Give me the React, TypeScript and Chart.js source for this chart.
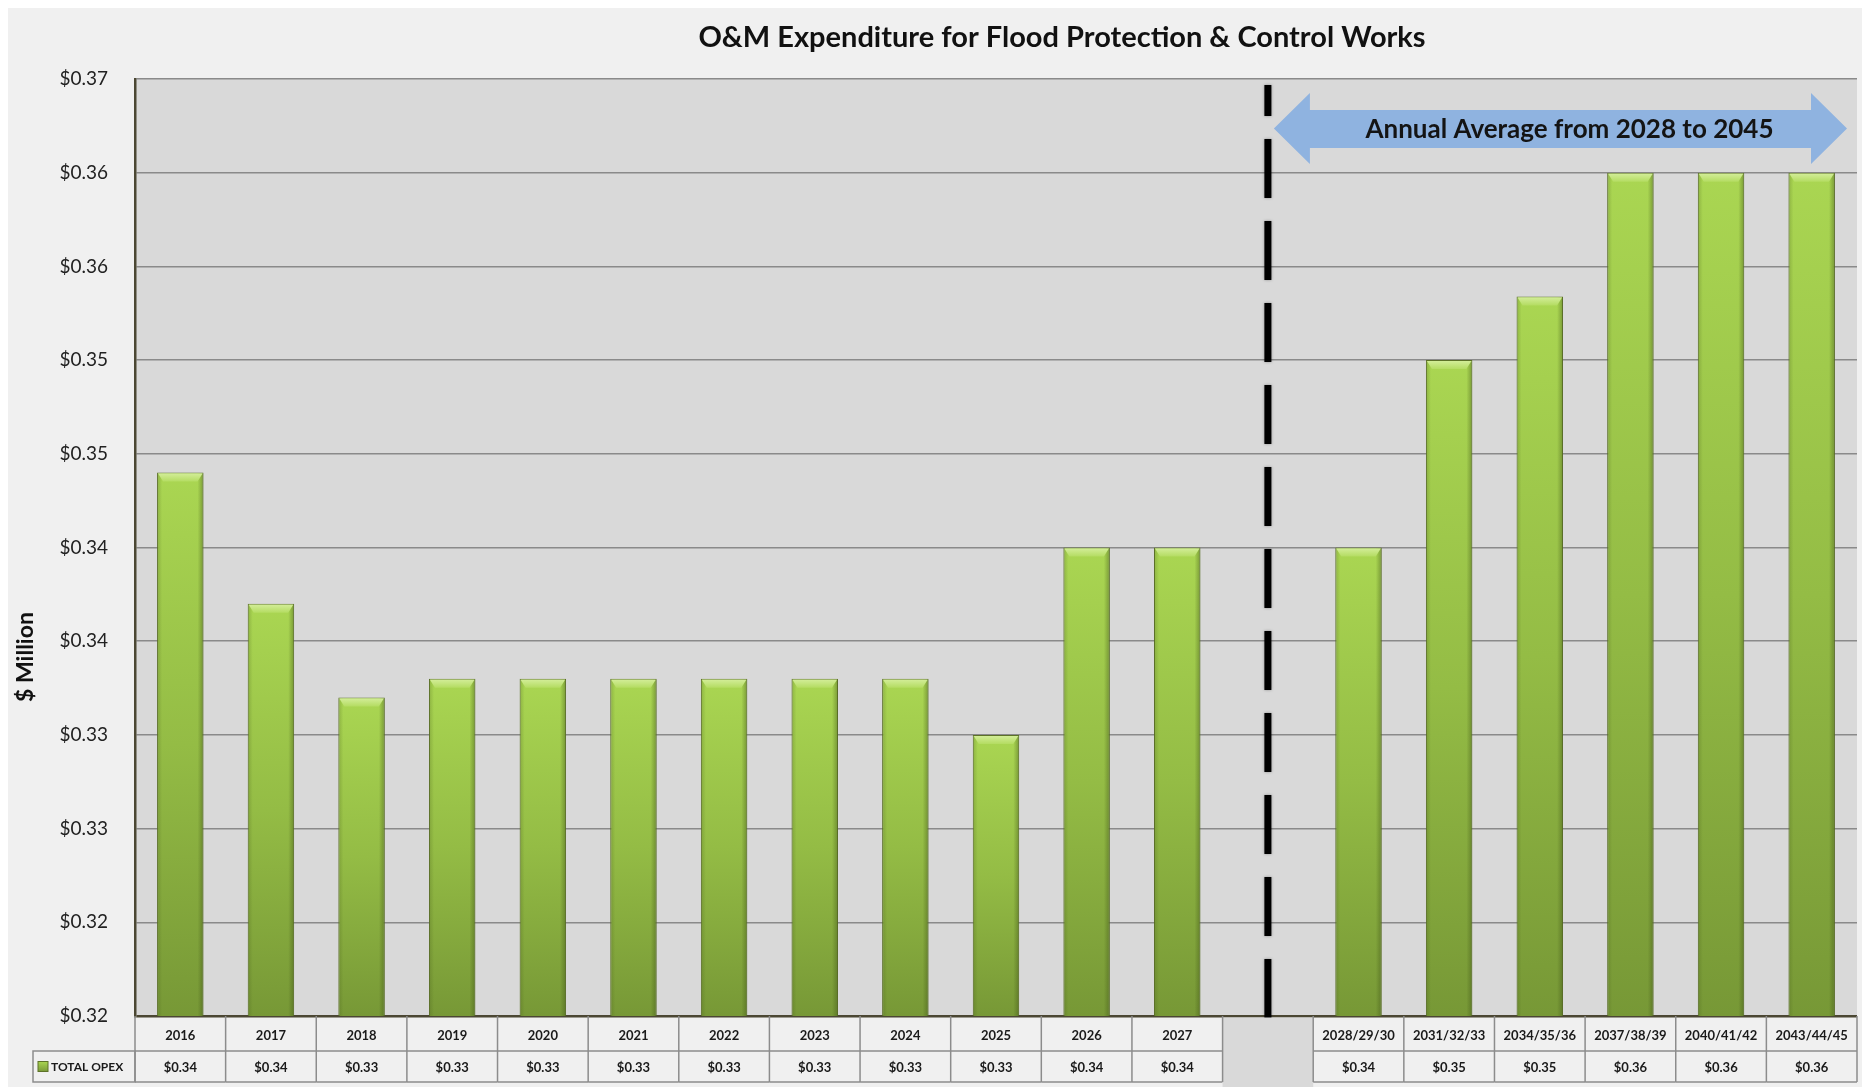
import React, { useEffect, useRef } from 'react';
import { Chart, registerables } from 'chart.js';

Chart.register(...registerables);

const TITLE = 'O&M Expenditure for Flood Protection & Control Works';
const Y_TITLE = '$ Million';
const SERIES_LABEL = 'TOTAL OPEX';
const ARROW_TEXT = 'Annual Average from 2028 to 2045';

const CATEGORIES = [
  '2016', '2017', '2018', '2019', '2020', '2021', '2022', '2023', '2024', '2025', '2026', '2027',
  '',
  '2028/29/30', '2031/32/33', '2034/35/36', '2037/38/39', '2040/41/42', '2043/44/45',
];
const GAP_INDEX = 12;

const TOTAL_OPEX: (number | null)[] = [
  0.349, 0.342, 0.337, 0.338, 0.338, 0.338, 0.338, 0.338, 0.338, 0.335, 0.345, 0.345,
  null,
  0.345, 0.355, 0.3584, 0.365, 0.365, 0.365,
];

const TABLE_VALUES = [
  '$0.34', '$0.34', '$0.33', '$0.33', '$0.33', '$0.33', '$0.33', '$0.33', '$0.33', '$0.33', '$0.34', '$0.34',
  '',
  '$0.34', '$0.35', '$0.35', '$0.36', '$0.36', '$0.36',
];

const Y_TICK_VALUES = [0.32, 0.325, 0.33, 0.335, 0.34, 0.345, 0.35, 0.355, 0.36, 0.365, 0.37];
const Y_TICK_LABELS = ['$0.32', '$0.32', '$0.33', '$0.33', '$0.34', '$0.34', '$0.35', '$0.35', '$0.36', '$0.36', '$0.37'];

const FONT = 'Lato, "Noto Sans", "DejaVu Sans", sans-serif';
const W = 1862;
const H = 1079;

const decorPlugin = {
  id: 'decor',
  beforeDraw(chart: any) {
    const { ctx, chartArea: a, width, height } = chart;
    ctx.save();
    ctx.fillStyle = '#f0f0f0';
    ctx.fillRect(0, 0, width, height);
    ctx.fillStyle = '#d9d9d9';
    ctx.fillRect(a.left, a.top, a.right - a.left, a.bottom - a.top);
    ctx.restore();
  },
  afterDatasetsDraw(chart: any) {
    const { ctx, chartArea: a, scales } = chart;
    const xs = scales.x;
    const meta = chart.getDatasetMeta(0);
    ctx.save();
    ctx.beginPath();
    ctx.rect(a.left, a.top - 2, a.right - a.left, a.bottom - a.top + 2);
    ctx.clip();
    meta.data.forEach((bar: any, i: number) => {
      if (TOTAL_OPEX[i] == null) return;
      const cx = bar.x;
      const top = bar.y;
      const w = bar.width;
      const base = Math.min(bar.base, a.bottom);
      const l = cx - w / 2;
      const r = cx + w / 2;
      // right-side shading
      const sg = ctx.createLinearGradient(r - 6, 0, r, 0);
      sg.addColorStop(0, 'rgba(60,80,20,0)');
      sg.addColorStop(1, 'rgba(60,80,20,0.45)');
      ctx.fillStyle = sg;
      ctx.fillRect(r - 6, top + 1, 5.5, base - top - 1);
      const lg = ctx.createLinearGradient(l, 0, l + 5, 0);
      lg.addColorStop(0, 'rgba(60,80,20,0.25)');
      lg.addColorStop(1, 'rgba(60,80,20,0)');
      ctx.fillStyle = lg;
      ctx.fillRect(l + 0.5, top + 1, 5, base - top - 1);
      // top bevel
      const h = 9;
      const inset = 6;
      const g = ctx.createLinearGradient(0, top, 0, top + h);
      g.addColorStop(0, '#d6ef9e');
      g.addColorStop(1, '#b4dc62');
      ctx.beginPath();
      ctx.moveTo(l + 1, top + 1);
      ctx.lineTo(r - 1, top + 1);
      ctx.lineTo(r - inset, top + h);
      ctx.lineTo(l + inset, top + h);
      ctx.closePath();
      ctx.fillStyle = g;
      ctx.fill();
    });
    ctx.restore();
    ctx.save();

    // double arrow
    const gx = xs.getPixelForValue(GAP_INDEX);
    const left = gx + 6;
    const right = a.right - 10;
    const yTop = a.top + 14;
    const yBot = a.top + 85;
    const sTop = a.top + 31;
    const sBot = a.top + 69;
    const yMid = (yTop + yBot) / 2;
    const head = 36;
    ctx.beginPath();
    ctx.moveTo(left, yMid);
    ctx.lineTo(left + head, yTop);
    ctx.lineTo(left + head, sTop);
    ctx.lineTo(right - head, sTop);
    ctx.lineTo(right - head, yTop);
    ctx.lineTo(right, yMid);
    ctx.lineTo(right - head, yBot);
    ctx.lineTo(right - head, sBot);
    ctx.lineTo(left + head, sBot);
    ctx.lineTo(left + head, yBot);
    ctx.closePath();
    ctx.fillStyle = '#8fb3e0';
    ctx.fill();
    ctx.fillStyle = '#141414';
    ctx.font = `bold 26px ${FONT}`;
    ctx.textAlign = 'center';
    ctx.textBaseline = 'middle';
    ctx.fillText(ARROW_TEXT, (left + right) / 2 + 9, yMid + 1);

    // dashed divider
    ctx.strokeStyle = '#000';
    ctx.lineWidth = 7;
    ctx.lineCap = 'butt';
    ctx.setLineDash([59, 23]);
    ctx.shadowColor = 'rgba(0,0,0,0.35)';
    ctx.shadowBlur = 3;
    ctx.beginPath();
    ctx.moveTo(gx, a.bottom + 2);
    ctx.lineTo(gx, a.top + 6);
    ctx.stroke();
    ctx.restore();
  },
  afterDraw(chart: any) {
    const { ctx, chartArea: a, scales, height } = chart;
    const xs = scales.x;
    ctx.save();
    // title
    ctx.fillStyle = '#111';
    ctx.font = `bold 29px ${FONT}`;
    ctx.textAlign = 'center';
    ctx.textBaseline = 'middle';
    ctx.fillText(TITLE, 1054, 30);

    // y title
    ctx.save();
    ctx.translate(a.left - 109, 649);
    ctx.rotate(-Math.PI / 2);
    ctx.font = `bold 23px ${FONT}`;
    ctx.fillStyle = '#111';
    ctx.fillText(Y_TITLE, 0, 0);
    ctx.restore();

    // data table
    const n = CATEGORIES.length;
    const cw = (a.right - a.left) / n;
    const top = a.bottom;
    const mid = a.bottom + 35;
    const bot = a.bottom + 66;
    ctx.lineWidth = 1.5;
    ctx.strokeStyle = '#8c8c8c';
    for (let i = 0; i < n; i++) {
      const cx = xs.getPixelForValue(i);
      const l = cx - cw / 2;
      const r = cx + cw / 2;
      if (i === GAP_INDEX) {
        ctx.fillStyle = '#d9d9d9';
        ctx.fillRect(l, top + 1.5, cw, height - top);
        continue;
      }
      ctx.beginPath();
      ctx.moveTo(l, mid);
      ctx.lineTo(r, mid);
      ctx.moveTo(l, bot);
      ctx.lineTo(r, bot);
      ctx.stroke();
      ctx.fillStyle = '#1a1a1a';
      ctx.font = `bold 13px ${FONT}`;
      ctx.fillText(CATEGORIES[i], cx, (top + mid) / 2 + 2);
      ctx.fillText(TABLE_VALUES[i], cx, (mid + bot) / 2 + 1);
    }
    for (let i = 0; i <= n; i++) {
      const bx = a.left + i * cw;
      ctx.beginPath();
      ctx.moveTo(bx, top);
      ctx.lineTo(bx, bot);
      ctx.stroke();
    }
    // legend cell
    const ll = a.left - 102;
    ctx.strokeRect(ll, mid, a.left - ll, bot - mid);
    const my = (mid + bot) / 2 - 5;
    const mg = ctx.createLinearGradient(0, my, 0, my + 10);
    mg.addColorStop(0, '#a9d551');
    mg.addColorStop(1, '#7a9a38');
    ctx.fillStyle = mg;
    ctx.fillRect(ll + 5, my, 10, 10);
    ctx.strokeStyle = '#5d7228';
    ctx.lineWidth = 1;
    ctx.strokeRect(ll + 5, my, 10, 10);
    ctx.fillStyle = '#1a1a1a';
    ctx.font = `bold 12px ${FONT}`;
    ctx.textAlign = 'left';
    ctx.fillText(SERIES_LABEL, ll + 18, (mid + bot) / 2 + 1);
    ctx.restore();
  },
};

export default function App() {
  const ref = useRef<HTMLCanvasElement>(null);

  useEffect(() => {
    document.documentElement.style.overflow = 'hidden';
    document.body.style.overflow = 'hidden';
    const canvas = ref.current;
    if (!canvas) return;
    const chart = new Chart(canvas, {
      type: 'bar',
      data: {
        labels: CATEGORIES,
        datasets: [
          {
            label: SERIES_LABEL,
            data: TOTAL_OPEX,
            barPercentage: 0.513,
            categoryPercentage: 1,
            borderColor: '#5d7228',
            borderWidth: 1,
            backgroundColor: (c: any) => {
              const ch = c.chart;
              const area = ch.chartArea;
              const v = c.raw;
              if (!area || v == null || !ch.scales.y) return '#95bd45';
              const top = ch.scales.y.getPixelForValue(v);
              const g = ch.ctx.createLinearGradient(0, top, 0, area.bottom);
              g.addColorStop(0, '#aad652');
              g.addColorStop(0.5, '#94bc45');
              g.addColorStop(1, '#779836');
              return g;
            },
          },
        ],
      },
      options: {
        responsive: false,
        maintainAspectRatio: false,
        animation: false,
        devicePixelRatio: 1,
        layout: { padding: { left: 0, right: 13, top: 71, bottom: 71 } },
        plugins: {
          legend: { display: false },
          title: { display: false },
          tooltip: { enabled: false },
        },
        scales: {
          x: {
            type: 'category',
            display: false,
            offset: true,
            grid: { display: false },
          },
          y: {
            min: 0.32,
            max: 0.37,
            afterBuildTicks: (s: any) => {
              s.ticks = Y_TICK_VALUES.map((v) => ({ value: v }));
            },
            afterFit: (s: any) => {
              s.width = 127;
            },
            ticks: {
              padding: 27,
              color: '#222',
              font: { family: FONT, size: 19 },
              callback: (_v: any, i: number) => Y_TICK_LABELS[i],
            },
            grid: {
              drawTicks: false,
              color: (c: any) => (c.index === 0 ? '#4b4733' : '#8a8a8a'),
              lineWidth: (c: any) => (c.index === 0 ? 2.5 : 1.5),
            },
            border: { display: true, color: '#4b4733', width: 2.5 },
          },
        },
      },
      plugins: [decorPlugin],
    } as any);
    return () => chart.destroy();
  }, []);

  return (
    <div style={{ width: W, height: H }}>
      <canvas ref={ref} width={W} height={H} style={{ display: 'block', width: W, height: H }} />
    </div>
  );
}
